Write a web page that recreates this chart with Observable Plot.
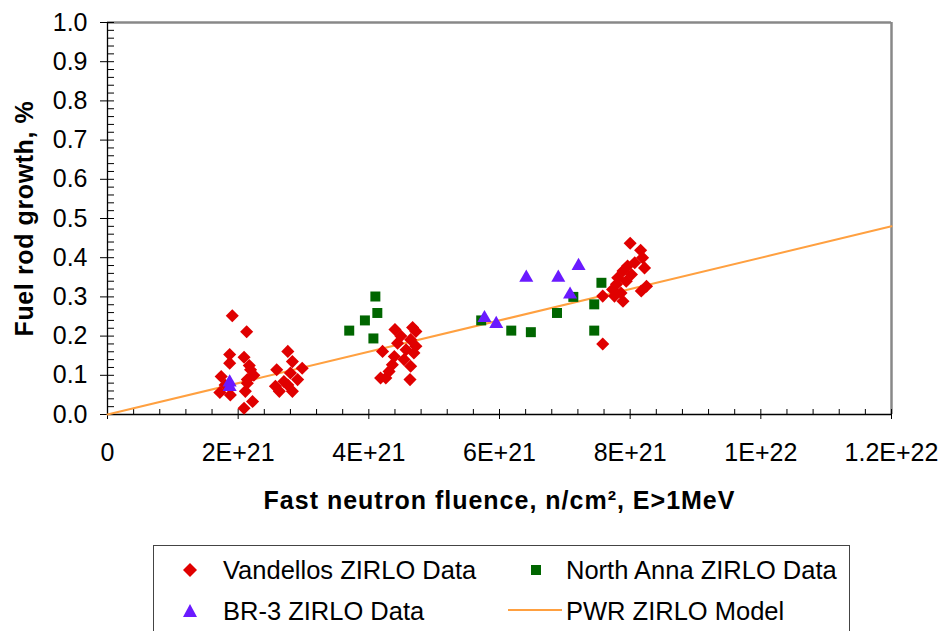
<!DOCTYPE html>
<html><head><meta charset="utf-8">
<script src="https://cdn.jsdelivr.net/npm/d3@7"></script>
<script src="https://cdn.jsdelivr.net/npm/@observablehq/plot@0.6"></script>
<style>
body{margin:0;background:#fff;font-family:"Liberation Sans",Arial,sans-serif;}
#wrap{position:relative;width:944px;height:631px;overflow:hidden;background:#fff;}
#chart{position:absolute;left:0;top:0;}
#legend{position:absolute;left:153px;top:545px;width:697px;height:110px;border:1px solid #444;box-sizing:border-box;}
.lt{position:absolute;font-size:25.5px;line-height:30px;white-space:nowrap;color:#000;transform:translateY(-50%);}
.ls{position:absolute;}
</style></head><body><div id="wrap"><div id="chart"></div><div id="legend"></div></div>
<script>
// Fluence in units of 1E21 n/cm²; growth in %
const vandellosX = [1.91,2.13,1.87,1.87,2.09,1.74,1.72,1.88,2.19,2.24,2.14,2.11,2.22,2.09,2.14,1.80,2.17,
  2.76,2.83,2.59,2.98,2.80,2.70,2.91,2.57,2.63,2.83,2.76,
  4.40,4.67,4.72,4.49,4.64,4.44,4.72,4.21,4.57,4.39,4.69,4.54,4.36,4.64,4.26,4.63,4.31,4.18,
  8.00,8.16,8.19,8.07,7.96,8.22,7.89,8.02,7.81,7.94,7.79,8.25,8.17,7.73,7.86,7.58,7.89,7.76,7.58];
const vandellosY = [0.252,0.211,0.153,0.131,0.146,0.097,0.056,0.050,0.114,0.100,0.089,0.059,0.033,0.016,0.080,0.075,0.125,
  0.161,0.135,0.114,0.118,0.106,0.084,0.089,0.072,0.059,0.059,0.075,
  0.217,0.222,0.212,0.200,0.191,0.182,0.174,0.161,0.165,0.148,0.157,0.140,0.127,0.123,0.093,0.089,0.110,0.093,
  0.437,0.419,0.400,0.387,0.379,0.374,0.366,0.357,0.349,0.340,0.332,0.327,0.315,0.319,0.310,0.302,0.289,0.302,0.180];
const northAnnaX = [3.70,3.94,4.10,4.13,4.07,5.72,6.18,6.48,6.88,7.13,7.45,7.45,7.56];
const northAnnaY = [0.214,0.240,0.301,0.259,0.194,0.240,0.214,0.210,0.259,0.300,0.281,0.214,0.336];
const br3X = [1.87,1.87,5.77,5.95,6.41,6.90,7.21,7.08];
const br3Y = [0.082,0.070,0.246,0.231,0.349,0.349,0.379,0.306];
const modelX = [0,12];
const modelY = [0,0.48];

const xTicks = [0,2,4,6,8,10,12];
const xTickLabels = ["0","2E+21","4E+21","6E+21","8E+21","1E+22","1.2E+22"];
const yTicks = [0,0.1,0.2,0.3,0.4,0.5,0.6,0.7,0.8,0.9,1.0];
const yTickLabels = ["0.0","0.1","0.2","0.3","0.4","0.5","0.6","0.7","0.8","0.9","1.0"];
const xTitle = "Fast neutron fluence, n/cm², E>1MeV";
const yTitle = "Fuel rod growth, %";
const seriesNames = ["Vandellos ZIRLO Data","North Anna ZIRLO Data","BR-3 ZIRLO Data","PWR ZIRLO Model"];
const colors = {red:"#e00000", green:"#006600", purple:"#6a1aff", orange:"#ffa040"};

const zip = (xs, ys) => xs.map((x, i) => ({x, y: ys[i]}));
const vandellos = zip(vandellosX, vandellosY);
const northAnna = zip(northAnnaX, northAnnaY);
const br3 = zip(br3X, br3Y);
const model = zip(modelX, modelY);

const xMinor = d3.range(0, 12.001, 0.4).filter(v => Math.abs(v/2 - Math.round(v/2)) > 1e-6);
const yMinor = d3.range(0, 1.0001, 0.02).filter(v => Math.abs(v*10 - Math.round(v*10)) > 1e-6);
const xFmt = new Map(xTicks.map((t, i) => [t, xTickLabels[i]]));
const yFmt = new Map(yTicks.map((t, i) => [t, yTickLabels[i]]));

const H = 540;
const chart = Plot.plot({
  width: 944, height: H,
  marginLeft: 107, marginRight: 53, marginTop: 22, marginBottom: H - 414,
  style: {fontFamily: "'Liberation Sans', Arial, sans-serif", fontSize: "25px", color: "#000", background: "#fff", overflow: "visible"},
  x: {domain: [0, 12]},
  y: {domain: [0, 1]},
  marks: [
    Plot.ruleY([1], {stroke: "#888", strokeWidth: 2.5}),
    Plot.ruleX([12], {stroke: "#888", strokeWidth: 2.5}),
    Plot.ruleY([0], {stroke: "#000", strokeWidth: 1.3}),
    Plot.ruleX([0], {stroke: "#000", strokeWidth: 1.3}),
    Plot.ruleX(xTicks, {x: d => d, y1: () => 0, y2: () => 0, insetTop: -5, insetBottom: -5, stroke: "#000"}),
    Plot.ruleX(xMinor, {x: d => d, y1: () => 0, y2: () => 0, insetTop: -5, insetBottom: 0, stroke: "#000"}),
    Plot.ruleY(yTicks, {y: d => d, x1: () => 0, x2: () => 0, insetLeft: -7, insetRight: -7, stroke: "#000"}),
    Plot.ruleY(yMinor, {y: d => d, x1: () => 0, x2: () => 0, insetLeft: 0, insetRight: -7, stroke: "#000"}),
    Plot.axisX(xTicks, {tickSize: 0, tickPadding: 29, tickFormat: d => xFmt.get(d), label: null, fontSize: 25}),
    Plot.axisY(yTicks, {tickSize: 0, tickPadding: 20, tickFormat: d => yFmt.get(d), label: null, fontSize: 25}),
    Plot.text([xTitle], {frameAnchor: "bottom", lineAnchor: "middle", dy: 86, fontWeight: "bold", fontSize: 25}),
    Plot.text([yTitle], {frameAnchor: "left", textAnchor: "middle", lineAnchor: "middle", dx: -83, rotate: -90, fontWeight: "bold", fontSize: 25}),
    Plot.line(model, {x: "x", y: "y", stroke: colors.orange, strokeWidth: 2}),
    Plot.dot(northAnna, {x: "x", y: "y", symbol: "square2", r: 6.36, fill: colors.green}),
    Plot.dot(vandellos, {x: "x", y: "y", symbol: "diamond2", r: 5.9, fill: colors.red}),
    Plot.dot(br3, {x: "x", y: "y", symbol: "triangle2", r: 6.7, fill: colors.purple})
  ]
});
document.getElementById("chart").append(chart);
// slightly wider letter spacing for the axis titles, as in the reference
d3.select(chart).selectAll("text").each(function() {
  const t = this.textContent;
  if (t === xTitle) this.setAttribute("letter-spacing", "1px");
  if (t === yTitle) this.setAttribute("letter-spacing", "0.6px");
});

// Legend (HTML, below the SVG)
const legend = document.getElementById("legend");
const L = 153, T = 545;
function sym(kind, cx, cy) {
  const s = document.createElementNS("http://www.w3.org/2000/svg", "svg");
  s.setAttribute("width", 20); s.setAttribute("height", 20);
  s.setAttribute("class", "ls");
  s.style.left = (cx - L - 1 - 10) + "px"; s.style.top = (cy - T - 1 - 10) + "px";
  const p = document.createElementNS("http://www.w3.org/2000/svg", "path");
  let d = "";
  if (kind === "diamond") { d = "M10,3L17,10L10,17L3,10Z"; p.setAttribute("fill", colors.red); }
  if (kind === "square") { d = "M5,5H15V15H5Z"; p.setAttribute("fill", colors.green); }
  if (kind === "triangle") { d = "M10,3L17,16H3Z"; p.setAttribute("fill", colors.purple); }
  if (kind === "line") { s.setAttribute("width", 54); d = "M0,10H54"; p.setAttribute("stroke", colors.orange); p.setAttribute("stroke-width", 2); p.setAttribute("fill", "none"); s.style.left = (cx - L - 1) + "px"; }
  p.setAttribute("d", d);
  s.append(p);
  legend.append(s);
}
function label(text, x, cy) {
  const d = document.createElement("div");
  d.className = "lt"; d.textContent = text;
  d.style.left = (x - L - 1) + "px"; d.style.top = (cy - T - 1) + "px";
  legend.append(d);
}
sym("diamond", 190, 570); label(seriesNames[0], 223, 570);
sym("square", 536, 570); label(seriesNames[1], 566, 570);
sym("triangle", 190, 611); label(seriesNames[2], 223, 611);
sym("line", 508, 610); label(seriesNames[3], 566, 611);
</script></body></html>
